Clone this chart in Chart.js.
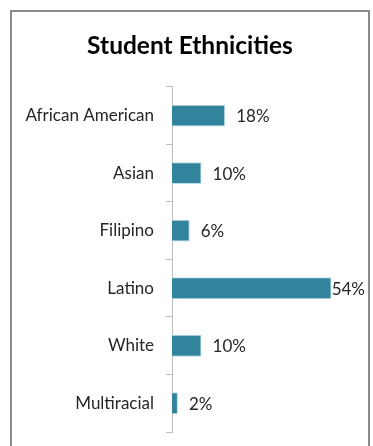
<!DOCTYPE html>
<html lang="en">
<head>
    <meta charset="UTF-8">
    <title>Student Ethnicities</title>
    <script src="https://cdn.jsdelivr.net/npm/chart.js@4.4.3/dist/chart.umd.min.js"></script>
    <style>
        html, body { margin: 0; padding: 0; background: #fff; }
        .wrap { position: relative; width: 373px; height: 446px; overflow: hidden; }
        .marco { position: absolute; left: 10px; top: 10px; width: 356px; height: 460px; border: 2px solid #8a8a8a; }
        canvas { position: absolute; left: 0; top: 0; }
    </style>
</head>
<body>
    <div class="wrap">
        <div class="marco"></div>
        <canvas id="etniasChart" width="373" height="446"></canvas>
    </div>
    <script>
        // Datos
        const categorias = ['African American', 'Asian', 'Filipino', 'Latino', 'White', 'Multiracial'];
        const porcentajes = [18, 10, 6, 54, 10, 2];
        const etiquetas = ['18%', '10%', '6%', '54%', '10%', '2%'];

        // Etiquetas de valor al final de cada barra
        const etiquetasBarras = {
            id: 'etiquetasBarras',
            afterDatasetsDraw(chart) {
                const ctx = chart.ctx;
                const meta = chart.getDatasetMeta(0);
                ctx.save();
                ctx.font = '17px Lato';
                ctx.fillStyle = '#262626';
                ctx.textBaseline = 'middle';
                ctx.textAlign = 'left';
                meta.data.forEach((bar, i) => {
                    const txt = etiquetas[i];
                    const w = ctx.measureText(txt).width;
                    const x = Math.min(bar.x + 11, chart.width - 8 - w);
                    ctx.fillText(txt, x, bar.y + 1);
                });
                ctx.restore();
            }
        };

        new Chart(document.getElementById('etniasChart'), {
            type: 'bar',
            data: {
                labels: categorias,
                datasets: [{
                    data: porcentajes,
                    backgroundColor: '#31849B',
                    borderColor: '#b9dbe4',
                    borderWidth: 1,
                    categoryPercentage: 1,
                    barPercentage: 0.38
                }]
            },
            options: {
                indexAxis: 'y',
                responsive: false,
                animation: false,
                layout: { padding: { left: 13, right: 6, top: 0, bottom: 14 } },
                plugins: {
                    legend: { display: false },
                    tooltip: { enabled: false },
                    title: {
                        display: true,
                        text: 'Student Ethnicities',
                        color: '#000',
                        font: { family: 'Lato', size: 24.5, weight: 'bold', lineHeight: 1.2 },
                        padding: { top: 31.5, bottom: 26 }
                    }
                },
                scales: {
                    x: { display: false, min: 0, max: 66 },
                    y: {
                        afterFit(scale) {
                            scale.width = 159;
                            scale.paddingTop = 0;
                            scale.paddingBottom = 0;
                        },
                        border: { display: true, color: '#bfbfbf', width: 1 },
                        grid: { drawOnChartArea: false, tickLength: 6, color: '#bfbfbf' },
                        ticks: {
                            padding: 12,
                            color: '#262626',
                            font: { family: 'Lato', size: 17 }
                        }
                    }
                }
            },
            plugins: [etiquetasBarras]
        });
    </script>
</body>
</html>
